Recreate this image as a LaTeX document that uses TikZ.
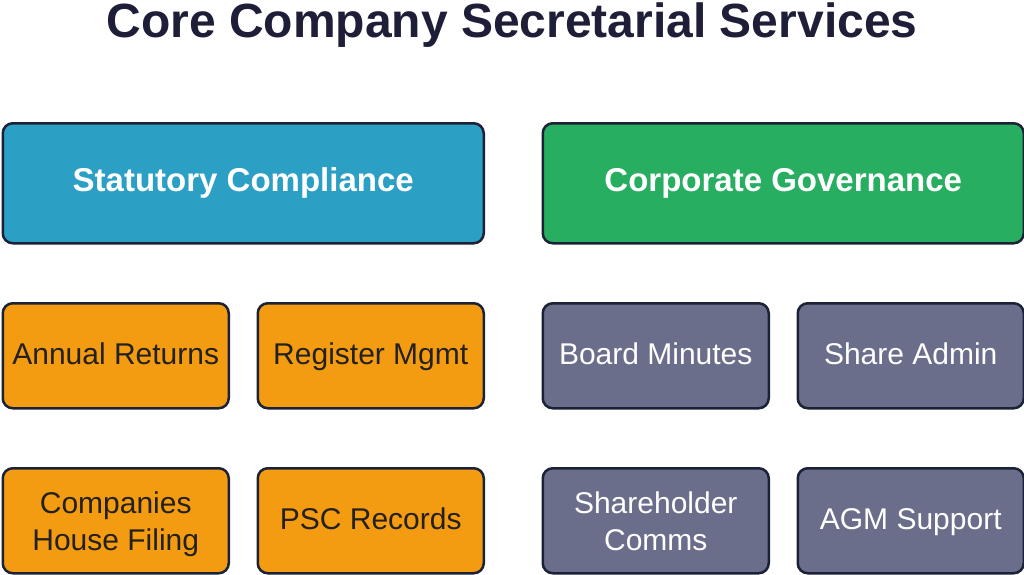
\documentclass[tikz,border=0pt]{standalone}
\usepackage{fontspec}
\setmainfont{Liberation Sans}
\definecolor{titlec}{HTML}{1E1E38}
\definecolor{edgec}{HTML}{1B2236}
\definecolor{bluec}{HTML}{2B9FC4}
\definecolor{greenc}{HTML}{27AE60}
\definecolor{orangec}{HTML}{F39C12}
\definecolor{slatec}{HTML}{6A6E8A}
\definecolor{darktext}{HTML}{24201C}
\tikzset{
  box/.style={draw=edgec, line width=2.5pt, rounded corners=10pt, anchor=north west, inner sep=0pt, align=center, text depth=0pt},
  headbox/.style={box, minimum width=481pt, minimum height=120pt, text=white, text height=16pt, font=\fontsize{33}{38}\selectfont\bfseries},
  itembox/.style={box, minimum width=226pt, minimum height=105pt, text height=18pt, font=\fontsize{30}{37}\selectfont},
  twoline/.style={text height=59pt},
  orangebox/.style={itembox, fill=orangec, text=darktext},
  slatebox/.style={itembox, fill=slatec, text=white},
}
\begin{document}
\begin{tikzpicture}[x=1pt,y=-1pt]
\useasboundingbox (0,0) rectangle (1024,574);
\node[font=\fontsize{48}{56}\selectfont\bfseries, text=titlec, anchor=base, inner sep=0pt, text height=34pt] (title) at (512,37) {Core Company Secretarial Services};
\node[headbox, fill=bluec] (stat) at (1.5,122) {Statutory Compliance};
\node[headbox, fill=greenc] (gov) at (541.5,122) {Corporate Governance};
\node[orangebox] (ar) at (1.5,302) {Annual Returns};
\node[orangebox] (rm) at (256.5,302) {Register Mgmt};
\node[orangebox, twoline] (ch) at (1.5,467) {Companies\\House Filing};
\node[orangebox] (psc) at (256.5,467) {PSC Records};
\node[slatebox] (bm) at (541.5,302) {Board Minutes};
\node[slatebox] (sa) at (796.5,302) {Share Admin};
\node[slatebox, twoline] (sc) at (541.5,467) {Shareholder\\Comms};
\node[slatebox] (agm) at (796.5,467) {AGM Support};
\end{tikzpicture}
\end{document}
